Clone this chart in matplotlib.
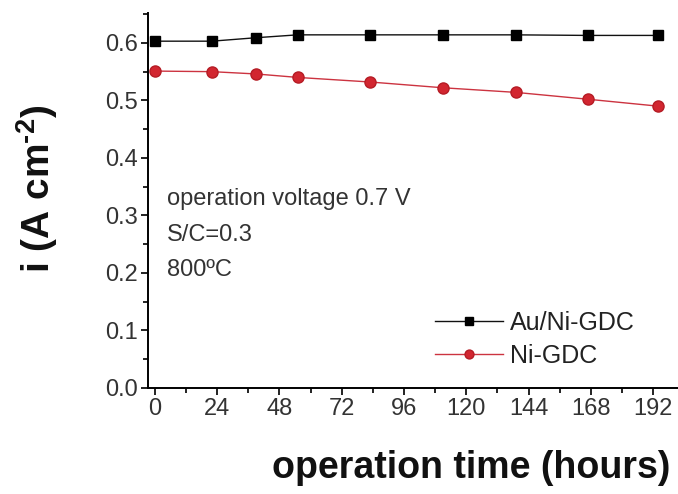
import numpy as np
import matplotlib
matplotlib.use('Agg')
import matplotlib.pyplot as plt
from matplotlib.ticker import MultipleLocator

plt.rcParams['font.family'] = ['Liberation Sans', 'DejaVu Sans']
plt.rcParams['mathtext.fontset'] = 'custom'
plt.rcParams['mathtext.rm'] = 'Liberation Sans:bold'
plt.rcParams['mathtext.bf'] = 'Liberation Sans:bold'

# Current density over time for the two anodes
hours = [0, 22, 39, 55, 83, 111, 139, 167, 194]
au_ni_gdc = [0.603, 0.603, 0.609, 0.614, 0.614, 0.614, 0.614, 0.613, 0.613]
ni_gdc = [0.551, 0.550, 0.546, 0.540, 0.532, 0.522, 0.514, 0.502, 0.490]
xticks = [0, 24, 48, 72, 96, 120, 144, 168, 192]

fig = plt.figure(figsize=(6.78, 4.94), dpi=100)
ax = fig.add_axes([0.218, 0.2146, 0.782, 0.7591])

ax.plot(hours, au_ni_gdc, color='#111111', lw=1, marker='s', ms=7.2,
        mfc='black', mec='black', label='Au/Ni-GDC')
ax.plot(hours, ni_gdc, color='#cc3340', lw=1, marker='o', ms=8,
        mfc='#d22630', mec='#b51c25', label='Ni-GDC')

ax.set_xlim(-2.7, 201.6)
ax.set_ylim(0, 0.652)
ax.set_xticks(xticks)
ax.xaxis.set_minor_locator(MultipleLocator(12))
ax.yaxis.set_major_locator(MultipleLocator(0.1))
ax.yaxis.set_minor_locator(MultipleLocator(0.05))
ax.yaxis.set_major_formatter(plt.FormatStrFormatter('%.1f'))

ax.spines['top'].set_visible(False)
ax.spines['right'].set_visible(False)
for s in ['left', 'bottom']:
    ax.spines[s].set_linewidth(1.4)
ax.tick_params(which='major', direction='out', length=5, width=1.3,
               labelsize=17, colors='#111111', labelcolor='#333333', pad=2)
ax.tick_params(which='minor', direction='out', length=3.5, width=1.3,
               colors='#111111')

# Axis titles placed in figure coordinates
fig.text(670 / 678, 1 - 468 / 494, 'operation time (hours)', fontsize=27,
         fontweight='bold', ha='right', va='center', color='#111111')
fig.text(37 / 678, 1 - 189 / 494, r'i (A cm$^{\text{-}2}$)', fontsize=28,
         fontweight='bold', rotation=90, ha='center', va='center',
         color='#111111')

ax.text(4.6, 0.329, 'operation voltage 0.7 V', fontsize=17, va='center',
        color='#333333')
ax.text(4.6, 0.266, 'S/C=0.3', fontsize=17, va='center', color='#333333')
ax.text(4.6, 0.205, '800ºC', fontsize=17, va='center', color='#333333')

leg = ax.legend(loc='upper left', bbox_to_anchor=(435 / 678, 1 - 311 / 494),
                bbox_transform=fig.transFigure, frameon=False, fontsize=18,
                handlelength=2.7, handletextpad=0.3, labelspacing=0.35,
                borderpad=0, borderaxespad=0, markerscale=0.8)
for t in leg.get_texts():
    t.set_color('#222222')

fig.savefig('out.png', dpi=100)
